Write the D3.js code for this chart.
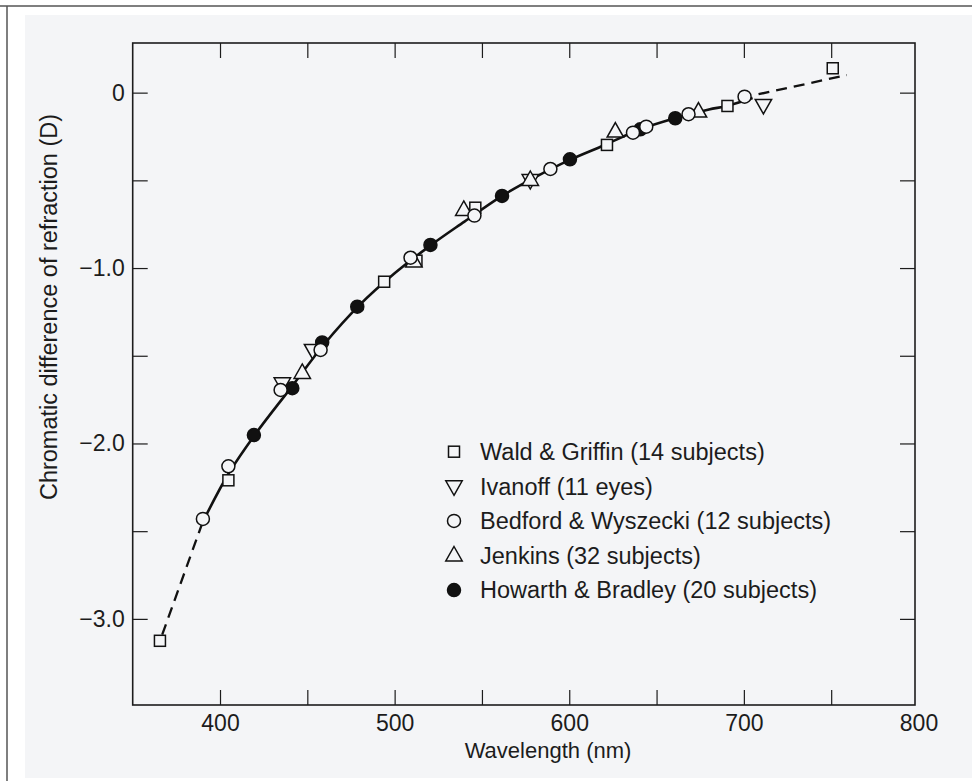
<!DOCTYPE html>
<html>
<head>
<meta charset="utf-8">
<script src="https://cdn.jsdelivr.net/npm/d3@7/dist/d3.min.js"></script>
<style>
  html, body { margin: 0; padding: 0; background: #ffffff; }
  svg { display: block; }
  text { font-family: "Liberation Sans", Arial, Helvetica, sans-serif; fill: #1c1c1c; }
</style>
</head>
<body>
<svg id="chart" width="972" height="781"></svg>
<script>
// ---------- DATA (wavelength nm, chromatic difference of refraction D) ----------
const waldGriffin = [[365.6,-3.125],[404.8,-2.21],[494.0,-1.078],[512.5,-0.958],[546.2,-0.656],[621.6,-0.298],[690.6,-0.076],[750.9,0.139]];
const ivanoff = [[435.7,-1.657],[453.0,-1.467],[577.7,-0.498],[711.2,-0.070]];
const bedfordWyszecki = [[390.2,-2.430],[404.8,-2.130],[434.7,-1.695],[457.6,-1.467],[509.1,-0.941],[545.7,-0.701],[589.2,-0.435],[636.5,-0.228],[644.1,-0.194],[668.3,-0.123],[700.4,-0.023]];
const jenkins = [[447.1,-1.598],[511.0,-0.962],[539.6,-0.669],[577.7,-0.498],[626.4,-0.222],[674.0,-0.108]];
const howarthBradley = [[419.4,-1.952],[441.4,-1.685],[458.5,-1.424],[478.6,-1.220],[520.5,-0.868],[561.5,-0.589],[600.4,-0.380],[640.7,-0.209],[660.7,-0.146]];

// theoretical curve (solid part) and its dashed extrapolations
const curveSolid = [[390,-2.45],[405,-2.17],[420,-1.95],[440,-1.69],[460,-1.43],[480,-1.21],[500,-1.03],[520,-0.875],[540,-0.735],[560,-0.598],[580,-0.485],[600,-0.385],[620,-0.300],[640,-0.212],[660,-0.148],[680,-0.096],[690,-0.076],[705,-0.030]];
const curveDashShort = [[366.9,-3.09],[390,-2.45]];
const curveDashLong = [[708.4,-0.009],[759,0.100]];

const xTicks = [400,450,500,550,600,650,700,750,800];
const xTickLabels = {400:"400",500:"500",600:"600",700:"700",800:"800"};
const yTicks = [0,-0.5,-1,-1.5,-2,-2.5,-3];
const yTickLabels = {"0":"0","-1":"\u22121.0","-2":"\u22122.0","-3":"\u22123.0"};

const legendItems = [
  {label:"Wald & Griffin (14 subjects)", sym:"square"},
  {label:"Ivanoff (11 eyes)", sym:"down"},
  {label:"Bedford & Wyszecki (12 subjects)", sym:"circle"},
  {label:"Jenkins (32 subjects)", sym:"up"},
  {label:"Howarth & Bradley (20 subjects)", sym:"filled"}
];

const xTitle = "Wavelength (nm)";
const yTitle = "Chromatic difference of refraction (D)";

// ---------- LAYOUT ----------
const svg = d3.select("#chart");
const PAGE = "#f4f5f7";
const L = 132.7, R = 915, T = 43, B = 705;

svg.append("rect").attr("x",0).attr("y",0).attr("width",972).attr("height",781).attr("fill","#ffffff");
svg.append("rect").attr("x",25).attr("y",15).attr("width",947).attr("height",763).attr("fill",PAGE);
svg.append("line").attr("x1",0).attr("x2",972).attr("y1",6).attr("y2",6).attr("stroke","#555").attr("stroke-width",1.5);
svg.append("line").attr("x1",7).attr("x2",7).attr("y1",6).attr("y2",781).attr("stroke","#555").attr("stroke-width",1.5);

const x = d3.scaleLinear().domain([350,798]).range([L,R]);
const y = d3.scaleLinear().domain([-3.491,0.283]).range([B,T]);

const TK = 15;
function styleAxis(g){
  g.select(".domain").remove();
  g.selectAll(".tick line").attr("stroke","#1c1c1c").attr("stroke-width",1.2);
  g.selectAll(".tick text").attr("font-size",23).attr("fill","#1c1c1c")
    .style("font-family",'"Liberation Sans", Arial, Helvetica, sans-serif');
}
const gxb = svg.append("g").attr("transform",`translate(0,${B})`)
  .call(d3.axisBottom(x).tickValues(xTicks).tickSize(-TK).tickPadding(10).tickFormat(d=>xTickLabels[d]||""))
  .call(styleAxis);
// the 800 nm position coincides with the frame edge: keep its label, hide its tick line
gxb.selectAll(".tick").filter(d=>d>=798).select("line").remove();
svg.append("g").attr("transform",`translate(0,${T})`)
  .call(d3.axisTop(x).tickValues(xTicks.filter(d=>d<798)).tickSize(-TK).tickFormat(()=>""))
  .call(styleAxis);
svg.append("g").attr("transform",`translate(${L},0)`)
  .call(d3.axisLeft(y).tickValues(yTicks).tickSize(-TK).tickPadding(8).tickFormat(d=>yTickLabels[String(d)]||""))
  .call(styleAxis);
svg.append("g").attr("transform",`translate(${R},0)`)
  .call(d3.axisRight(y).tickValues(yTicks).tickSize(-TK).tickFormat(()=>""))
  .call(styleAxis);

svg.append("rect").attr("x",L).attr("y",T).attr("width",R-L).attr("height",B-T)
  .attr("fill","none").attr("stroke","#1c1c1c").attr("stroke-width",1.6);

// titles
svg.append("text").attr("x",548).attr("y",758).attr("text-anchor","middle").attr("font-size",22).text(xTitle);
svg.append("text").attr("transform","translate(57,307) rotate(-90)").attr("text-anchor","middle").attr("font-size",23.5).text(yTitle);

// curve
const line = d3.line().x(d=>x(d[0])).y(d=>y(d[1])).curve(d3.curveCatmullRom.alpha(0.5));
svg.append("path").attr("d",line(curveSolid)).attr("fill","none").attr("stroke","#111").attr("stroke-width",2.6);
svg.append("path").attr("d",d3.line().x(d=>x(d[0])).y(d=>y(d[1]))(curveDashShort)).attr("fill","none").attr("stroke","#111").attr("stroke-width",2.3).attr("stroke-dasharray","11,7");
svg.append("path").attr("d",d3.line().x(d=>x(d[0])).y(d=>y(d[1]))(curveDashLong)).attr("fill","none").attr("stroke","#111").attr("stroke-width",2.3).attr("stroke-dasharray","11,7");

// symbols
function drawSym(g, type, cx, cy){
  const st = {stroke:"#111","stroke-width":1.5};
  let el;
  if(type==="square"){
    el = g.append("rect").attr("x",cx-5.5).attr("y",cy-5.5).attr("width",11).attr("height",11).attr("fill",PAGE);
  } else if(type==="circle"){
    el = g.append("circle").attr("cx",cx).attr("cy",cy).attr("r",6.5).attr("fill",PAGE);
  } else if(type==="filled"){
    el = g.append("circle").attr("cx",cx).attr("cy",cy).attr("r",6.5).attr("fill","#111");
  } else if(type==="up"){
    el = g.append("path").attr("d",`M${cx},${cy-9}L${cx+8.2},${cy+5.5}L${cx-8.2},${cy+5.5}Z`).attr("fill",PAGE);
  } else if(type==="down"){
    el = g.append("path").attr("d",`M${cx},${cy+9}L${cx+8.2},${cy-5.5}L${cx-8.2},${cy-5.5}Z`).attr("fill",PAGE);
  }
  Object.entries(st).forEach(([k,v])=>el.attr(k,v));
}
const gm = svg.append("g");
waldGriffin.forEach(d=>drawSym(gm,"square",x(d[0]),y(d[1])));
ivanoff.forEach(d=>drawSym(gm,"down",x(d[0]),y(d[1])));
jenkins.forEach(d=>drawSym(gm,"up",x(d[0]),y(d[1])));
howarthBradley.forEach(d=>drawSym(gm,"filled",x(d[0]),y(d[1])));
bedfordWyszecki.forEach(d=>drawSym(gm,"circle",x(d[0]),y(d[1])));

// legend
const gl = svg.append("g");
legendItems.forEach((it,i)=>{
  const cy = 451.7 + i*34.6;
  drawSym(gl, it.sym, 454, cy);
  gl.append("text").attr("x",480).attr("y",cy+8.2).attr("font-size",23.5).text(it.label);
});
</script>
</body>
</html>
